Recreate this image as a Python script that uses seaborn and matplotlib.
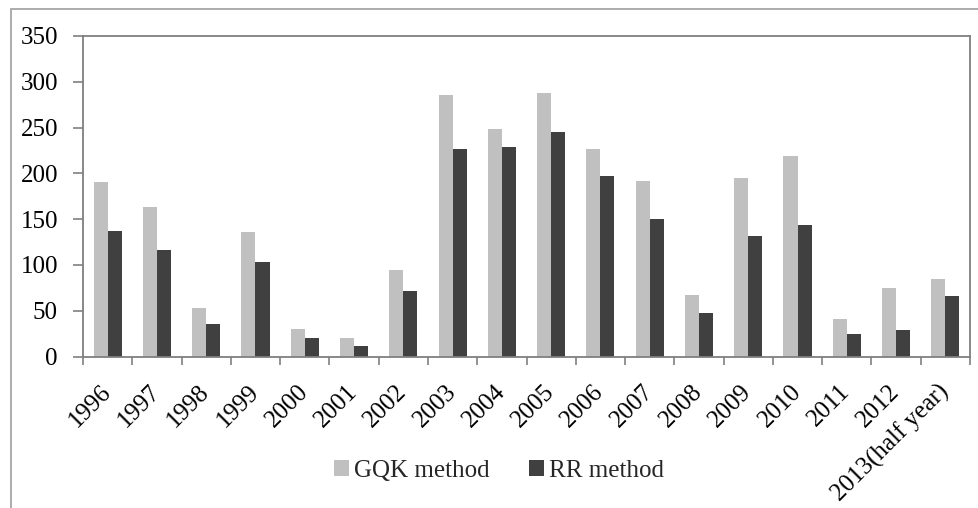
import matplotlib
matplotlib.use("Agg")
import matplotlib.pyplot as plt
from matplotlib.patches import Patch
from matplotlib.lines import Line2D
import numpy as np
import pandas as pd
import seaborn as sns

# Categories and series values
years = ["1996", "1997", "1998", "1999", "2000", "2001", "2002", "2003", "2004",
         "2005", "2006", "2007", "2008", "2009", "2010", "2011", "2012",
         "2013(half year)"]
gqk_values = [191, 163, 53, 136, 30, 20, 95, 286, 248, 288, 227, 192, 67, 195,
              219, 41, 75, 85]
rr_values = [137, 116, 35, 103, 20, 11, 72, 227, 229, 245, 197, 150, 48, 132,
             144, 25, 29, 66]
series_names = ["GQK method", "RR method"]
y_ticks = [0, 50, 100, 150, 200, 250, 300, 350]

colors = ["#C0C0C0", "#404040"]

df = pd.DataFrame({
    "year": years * 2,
    "value": gqk_values + rr_values,
    "method": [series_names[0]] * len(years) + [series_names[1]] * len(years),
})

sns.set_theme(style="white")
plt.rcParams["font.family"] = ["Liberation Serif", "DejaVu Serif"]
FS = 18

W, H = 979, 508
fig = plt.figure(figsize=(W / 100, H / 100), dpi=100)
ax = fig.add_axes([83 / W, 1 - 356.5 / H, (970 - 83) / W, (356.5 - 36) / H])

sns.barplot(data=df, x="year", y="value", hue="method", palette=colors,
            width=0.57, gap=0, ax=ax, legend=False, linewidth=0,
            saturation=1)

ax.set_xlim(-0.5, len(years) - 0.5)
ax.set_ylim(0, 350)
ax.set_yticks(y_ticks)
ax.set_yticklabels([str(t) for t in y_ticks], fontsize=FS, color="black")
ax.set_xlabel("")
ax.set_ylabel("")

# Category labels at the centres, tick marks between categories
ax.set_xticks(np.arange(len(years)))
ax.set_xticklabels(years, fontsize=FS, rotation=45, ha="right", va="center",
                   rotation_mode="anchor", color="black")
ax.set_xticks(np.arange(len(years) + 1) - 0.5, minor=True)
ax.tick_params(axis="x", which="major", length=0, pad=23)
ax.tick_params(axis="x", which="minor", length=5.5, width=1.2,
               color="#808080", direction="out", bottom=True)
ax.tick_params(axis="y", which="major", length=7, width=1.2,
               color="#808080", direction="out", left=True, pad=11)

for side in ["left", "bottom", "top", "right"]:
    ax.spines[side].set_visible(True)
    ax.spines[side].set_color("#7F7F7F")
    ax.spines[side].set_linewidth(1.3)
ax.grid(False)

# Chart-area border
bx = 10.5 / W
by = 1 - 8.5 / H
fig.add_artist(Line2D([bx, bx], [0, by], transform=fig.transFigure,
                      color="#A6A6A6", linewidth=1.3))
fig.add_artist(Line2D([bx, 1], [by, by], transform=fig.transFigure,
                      color="#A6A6A6", linewidth=1.3))

handles = [Patch(facecolor=c, edgecolor="none", label=n)
           for c, n in zip(colors, series_names)]
fig.legend(handles=handles, loc="center", bbox_to_anchor=(499 / W, 1 - 471 / H),
           ncol=2, frameon=False, fontsize=FS, handlelength=0.6,
           handleheight=0.6, handletextpad=0.2, columnspacing=1.6)

fig.savefig("out.png", dpi=100)
